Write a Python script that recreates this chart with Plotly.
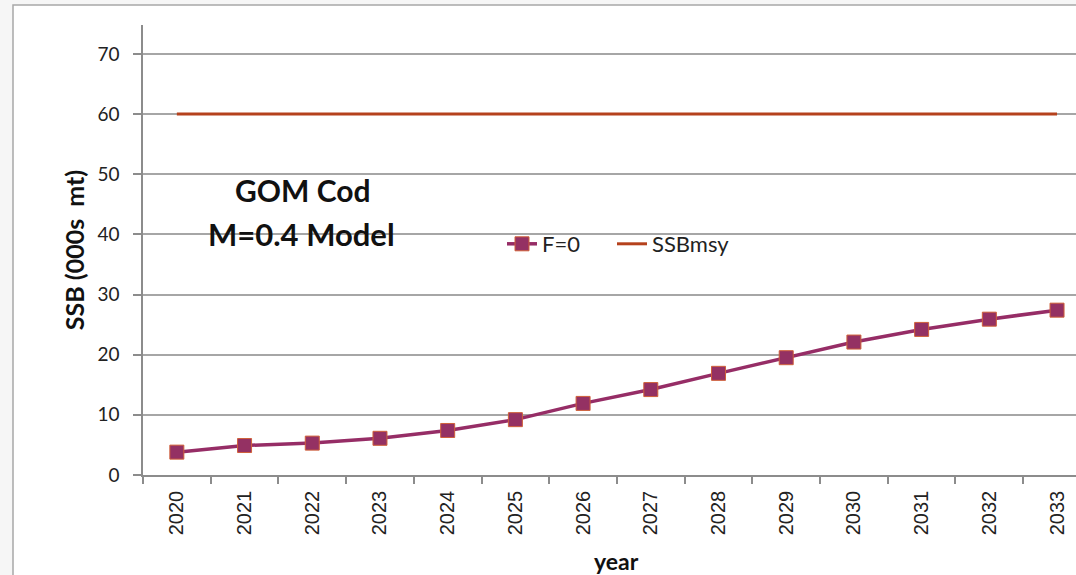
import plotly.graph_objects as go

years = ["2020", "2021", "2022", "2023", "2024", "2025", "2026",
         "2027", "2028", "2029", "2030", "2031", "2032", "2033"]
ssb_f0 = [3.8, 4.9, 5.3, 6.1, 7.4, 9.2, 11.9, 14.2, 16.9, 19.5, 22.1, 24.2, 25.9, 27.4]
ssb_msy = [60] * len(years)

W, H = 1076, 575
L, R, T, B = 143, 0, 25, 100
pw, ph = W - L - R, H - T - B

def px(x):
    return (x - L) / pw

def py(y):
    return (H - B - y) / ph

FONT = "Lato"

fig = go.Figure()
fig.add_trace(go.Scatter(
    x=years, y=ssb_f0, name="F=0", mode="lines+markers",
    line=dict(color="#962d66", width=3.5),
    marker=dict(symbol="square", size=14, color="#943163",
                line=dict(color="#d0603a", width=1)),
    legend="legend",
))
fig.add_trace(go.Scatter(
    x=years, y=ssb_msy, name="SSBmsy", mode="lines",
    line=dict(color="#b5411c", width=3),
    legend="legend2",
))

shapes = [
    # outer frame
    dict(type="rect", xref="paper", yref="paper", x0=px(13), x1=px(1200),
         y0=py(700), y1=py(5), fillcolor="white",
         line=dict(color="#a8a8a8", width=1.5), layer="below"),
    # text box background
    dict(type="rect", xref="paper", yref="paper", x0=px(200), x1=px(403),
         y0=py(258), y1=py(160), fillcolor="white", line=dict(width=0),
         layer="between"),
    # legend background
    dict(type="rect", xref="paper", yref="paper", x0=px(472), x1=px(762),
         y0=py(302), y1=py(120), fillcolor="white", line=dict(width=0),
         layer="between"),
]

annotations = [
    dict(text="<b>GOM Cod</b>", xref="paper", yref="paper", x=px(302), y=py(190),
         showarrow=False, font=dict(family=FONT, size=30, color="#111111"),
         xanchor="center", yanchor="middle"),
    dict(text="<b>M=0.4 Model</b>", xref="paper", yref="paper", x=px(301), y=py(234),
         showarrow=False, font=dict(family=FONT, size=31, color="#111111"),
         xanchor="center", yanchor="middle"),
    dict(text="<b>year</b>", xref="paper", yref="paper", x=px(616), y=py(561),
         showarrow=False, font=dict(family=FONT, size=23, color="#111111"),
         xanchor="center", yanchor="middle"),
]

leg_common = dict(orientation="h", yanchor="middle", xanchor="left",
                  bgcolor="rgba(0,0,0,0)", font=dict(family=FONT, size=22, color="#222222"),
                  itemwidth=30)

fig.update_layout(
    width=W, height=H,
    margin=dict(l=L, r=R, t=T, b=B, pad=0),
    paper_bgcolor="#f6f6f6",
    plot_bgcolor="rgba(0,0,0,0)",
    shapes=shapes,
    annotations=annotations,
    showlegend=True,
    legend=dict(x=px(502), y=py(244), **leg_common),
    legend2=dict(x=px(612), y=py(244), **leg_common),
    xaxis=dict(
        type="category", range=[-0.5, 13.28], tickson="boundaries",
        showgrid=False, showline=True, linecolor="#8c8c8c", linewidth=1.5,
        ticks="outside", ticklen=7, tickcolor="#8c8c8c", tickwidth=1.5,
        tickangle=-90, tickfont=dict(family="Liberation Sans", size=20, color="#222222"),
        ticklabelstandoff=6,
        zeroline=False, fixedrange=True,
    ),
    yaxis=dict(
        range=[0, 74.8], tickmode="array", tickvals=[0, 10, 20, 30, 40, 50, 60, 70],
        showgrid=True, gridcolor="#a6a6a6", gridwidth=2,
        showline=True, linecolor="#8c8c8c", linewidth=1.5,
        ticks="outside", ticklen=8, tickcolor="#8c8c8c", tickwidth=1.5,
        tickfont=dict(family=FONT, size=19, color="#222222"),
        ticklabelstandoff=10,
        title=dict(text="<b>SSB (000s  mt)</b>", font=dict(family=FONT, size=25, color="#111111"),
                   standoff=6),
        zeroline=False, fixedrange=True,
    ),
)

fig.write_html("out.html", config={"displayModeBar": False},
               post_script="document.body.style.margin='0';document.body.style.overflow='hidden';")
